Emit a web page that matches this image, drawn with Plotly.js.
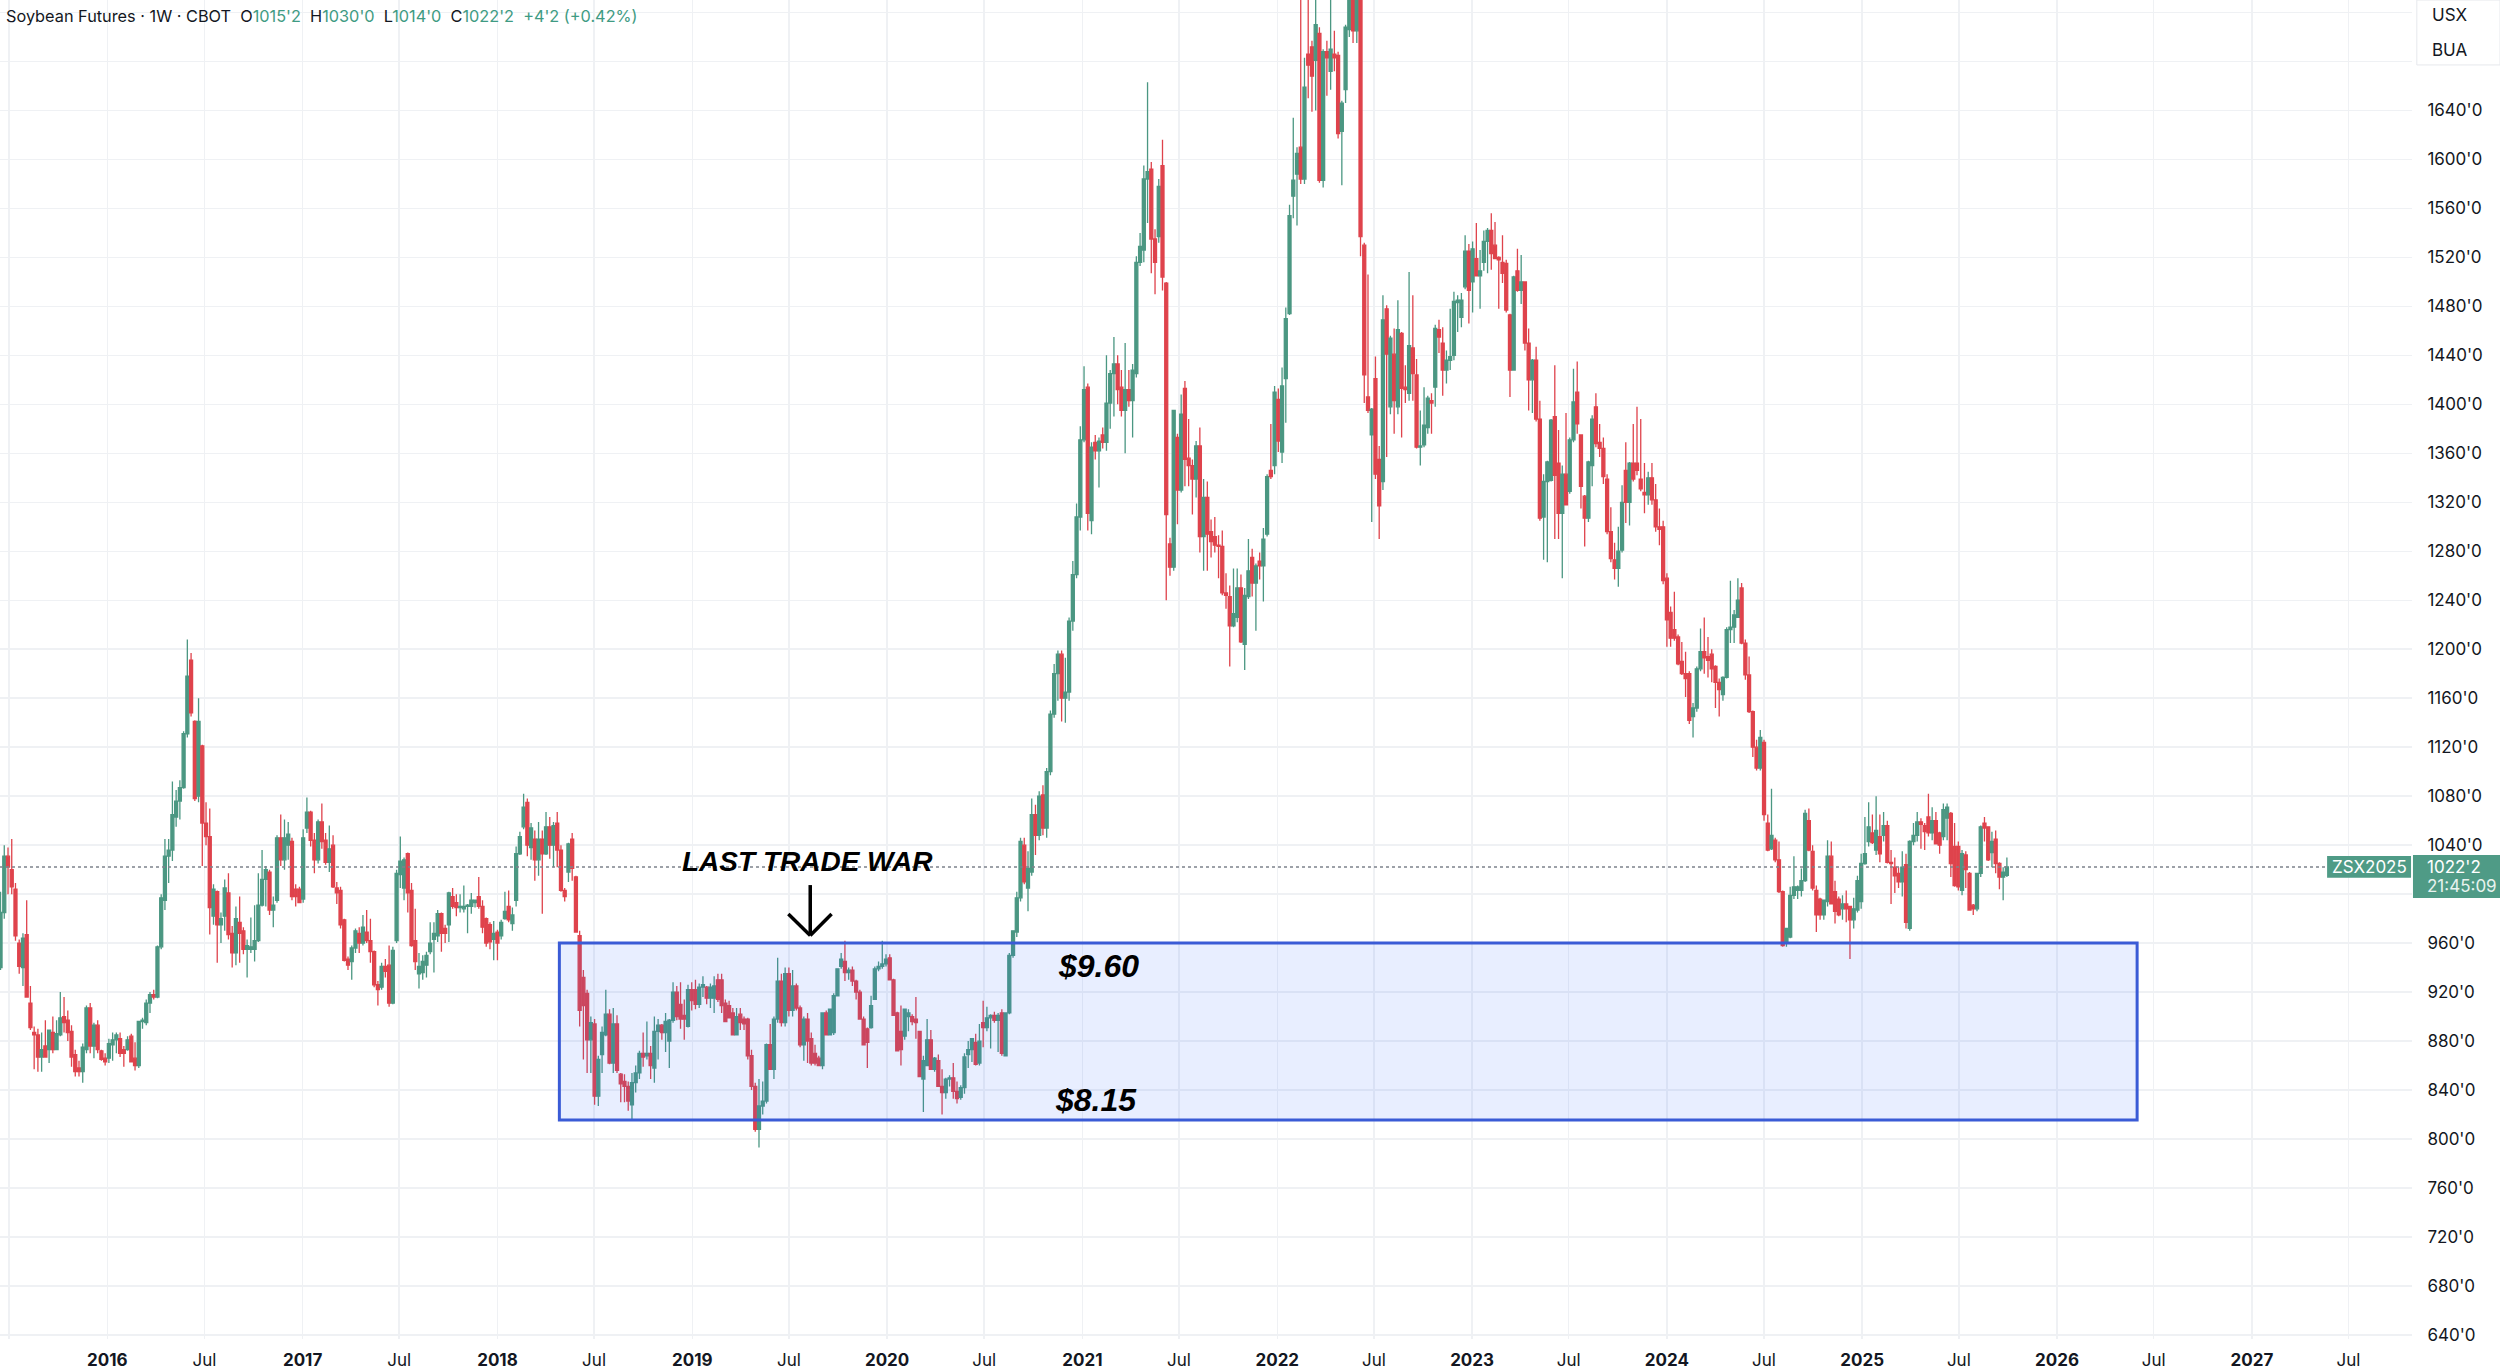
<!DOCTYPE html>
<html><head><meta charset="utf-8">
<script src="https://cdn.plot.ly/plotly-3.0.1.min.js"></script>
<style>html,body{margin:0;padding:0;background:#fff}#chart{width:2500px;height:1369px}</style>
</head><body><div id="chart"></div>
<script>
// Weekly bars [open, high, low, close], one array per calendar year (week start Monday)
const ohlc2015 = [[940,1002,938,985],[985,1040,980,1031],[1031,1038,1000,1022],[1020,1045,1000,1006],[1004,1009,962,966],[960,963,935,941],[940,968,925,964],[967,995,916,916],[911,925,889,891],[887,892,857,885],[885,890,855,867],[867,887,855,873],[876,897,867,867],[873,889,862,889],[887,900,870,873],[873,897,873,886],[885,920,884,899],[900,916,887,895],[897,905,880,887],[888,893,859,867],[869,873,851,855],[858,864,851,855],[855,878,846,875],[873,909,870,907],[907,911,870,876],[876,895,866,893],[893,897,870,873],[872,873,864,865],[866,870,860,863]];
const ohlc2016 = [[866,882,862,878],[877,887,864,881],[881,887,870,885],[882,887,867,870],[873,876,859,870],[873,884,872,881],[884,886,863,863],[866,879,856,860],[860,896,858,896],[896,899,890,897],[895,914,893,911],[911,920,903,918],[918,922,914,916],[916,958,915,957],[957,1000,955,997],[995,1045,987,1031],[1031,1045,1009,1036],[1036,1092,1027,1065],[1063,1085,1055,1076],[1076,1093,1061,1087],[1087,1133,1086,1131],[1131,1208,1128,1178],[1191,1197,1145,1148],[1141,1142,1076,1078],[1080,1160,1075,1141],[1121,1122,1023,1058],[1058,1075,1040,1047],[1047,1070,967,989],[982,1008,975,1004],[1002,1003,944,975],[975,985,960,980],[982,1012,970,1005],[1001,1017,963,967],[968,974,940,952],[952,990,942,980],[977,998,944,968],[970,973,951,955],[955,963,932,958],[955,981,952,957],[955,991,945,962],[962,1017,961,991],[991,1036,990,1012],[1012,1023,990,1020],[1018,1020,983,987],[987,998,973,991],[995,1048,993,1046],[1046,1065,1023,1028],[1028,1061,1020,1046],[1040,1059,1028,1049],[1043,1046,995,998],[1004,1008,990,998],[1004,1006,993,993]];
const ohlc2017 = [[996,1053,993,1046],[1054,1079,1050,1067],[1067,1068,1039,1044],[1044,1050,1017,1028],[1028,1061,1025,1059],[1059,1074,1037,1043],[1044,1050,1024,1026],[1026,1056,1018,1037],[1040,1048,1005,1006],[1005,1010,992,1001],[1003,1006,972,975],[979,980,945,946],[947,949,938,942],[945,958,930,956],[956,972,952,970],[968,973,952,960],[960,983,958,973],[969,987,960,962],[962,980,944,953],[953,954,924,926],[926,929,909,922],[924,944,922,941],[941,947,932,937],[942,958,908,911],[911,957,910,954],[962,1020,960,1017],[1016,1047,1005,1027],[1005,1030,995,1028],[1033,1034,985,1001],[1003,1009,957,958],[962,988,938,945],[935,952,923,941],[936,950,930,945],[942,953,932,950],[953,977,951,960],[963,977,936,968],[966,987,961,984],[984,985,953,968],[972,975,960,968],[975,1002,961,1001],[998,1005,988,990],[993,1000,982,989],[989,1000,985,990],[988,1007,985,990],[990,992,968,991],[990,1001,984,995],[993,995,989,995],[998,1014,988,990],[990,995,968,973],[980,981,957,960],[975,977,955,961],[963,978,946,968]];
const ohlc2018 = [[969,971,946,960],[966,979,963,977],[980,1002,979,986],[990,1003,977,979],[976,989,970,983],[995,1039,990,1033],[1033,1051,1032,1047],[1055,1082,1053,1071],[1075,1078,1031,1040],[1038,1058,1028,1054],[1045,1052,1011,1028],[1028,1059,1015,1045],[1045,1052,984,1033],[1033,1067,1032,1055],[1055,1063,1029,1040],[1040,1059,1022,1056],[1058,1067,1022,1036],[1036,1040,1002,1003],[1003,1005,994,998],[1018,1042,1010,1041],[1045,1050,1011,1021],[1014,1015,969,969],[966,970,892,905],[932,938,865,909],[919,922,854,881],[881,900,854,895],[894,898,828,835],[835,868,827,865],[869,892,854,887],[885,922,884,902],[902,906,861,862],[862,907,854,894],[894,901,854,856],[853,854,830,845],[847,853,830,843],[843,847,823,831],[828,854,815,846],[846,860,838,854],[854,872,849,870],[870,887,859,867],[868,896,865,870],[870,876,849,860],[858,900,846,888],[888,898,865,893],[893,894,881,887],[887,903,871,896],[880,898,858,897],[897,928,895,920],[920,925,897,900],[910,928,890,898],[901,914,881,898],[892,926,891,922],[922,928,905,913]];
const ohlc2019 = [[922,930,906,910],[910,927,907,924],[924,933,916,926],[924,925,910,915],[915,927,907,924],[915,933,903,925],[930,935,912,914],[930,935,903,909],[911,914,896,896],[909,913,899,899],[903,907,885,885],[885,907,885,900],[902,907,889,895],[898,900,889,894],[898,899,865,868],[868,873,840,843],[843,846,806,808],[808,849,793,827],[827,847,820,831],[831,878,829,877],[877,894,857,857],[857,900,849,898],[898,948,895,929],[929,935,892,895],[895,940,892,935],[935,940,900,905],[905,938,900,925],[925,927,905,907],[907,909,875,877],[877,900,864,898],[898,903,862,880],[882,887,860,862],[870,877,860,862],[866,868,860,860],[860,903,857,903],[903,905,885,885],[885,906,885,906],[887,919,885,917],[917,939,917,939],[941,952,939,947],[945,962,929,936],[936,940,930,938],[938,941,925,929],[929,930,914,920],[920,922,898,898],[898,900,877,877],[890,891,858,879],[891,917,890,909],[914,941,914,939],[939,945,937,941],[941,962,939,943],[943,951,941,947]];
const ohlc2020 = [[948,951,930,930],[930,931,901,901],[903,904,872,872],[888,909,860,873],[884,906,881,906],[900,906,888,903],[900,902,893,896],[898,916,882,895],[888,888,851,851],[849,868,822,864],[860,898,860,881],[881,889,857,857],[857,867,855,866],[864,869,843,843],[843,857,820,838],[838,850,833,849],[849,852,843,850],[850,862,833,839],[839,847,829,833],[834,844,832,842],[842,870,837,867],[869,880,858,873],[873,882,863,882],[879,886,860,861],[862,894,860,880],[895,913,875,891],[891,908,888,899],[899,902,874,901],[901,904,895,897],[897,903,871,901],[903,906,868,870],[868,903,868,903],[903,952,902,950],[950,970,948,970],[969,1002,965,997],[997,1046,994,1043],[1040,1046,1008,1010],[1005,1035,986,1021],[1018,1078,1015,1065],[1065,1073,1032,1048],[1048,1084,1044,1080],[1081,1089,1048,1054],[1054,1103,1046,1100],[1100,1150,1097,1147],[1147,1188,1144,1180],[1180,1199,1158,1196],[1196,1199,1141,1160],[1160,1193,1140,1165],[1165,1226,1158,1223],[1223,1272,1215,1261],[1261,1319,1258,1308],[1308,1382,1297,1371]];
const ohlc2021 = [[1371,1431,1369,1412],[1414,1417,1297,1311],[1305,1369,1294,1365],[1369,1375,1355,1362],[1362,1373,1332,1370],[1375,1381,1364,1369],[1369,1440,1362,1401],[1401,1428,1380,1425],[1425,1455,1390,1433],[1433,1440,1400,1412],[1414,1428,1390,1395],[1395,1450,1360,1412],[1412,1428,1398,1403],[1403,1433,1373,1428],[1425,1521,1422,1516],[1516,1540,1513,1529],[1526,1595,1516,1584],[1584,1663,1548,1590],[1592,1598,1507,1535],[1535,1543,1490,1516],[1537,1584,1532,1578],[1595,1616,1493,1504],[1499,1500,1240,1310],[1286,1291,1260,1267],[1267,1395,1264,1395],[1373,1376,1302,1330],[1330,1408,1328,1392],[1413,1419,1333,1355],[1356,1388,1333,1350],[1350,1355,1310,1339],[1339,1370,1324,1366],[1366,1381,1279,1292],[1292,1339,1264,1324],[1324,1337,1264,1294],[1296,1306,1275,1288],[1292,1308,1279,1285],[1285,1293,1258,1284],[1284,1297,1244,1246],[1246,1262,1233,1244],[1243,1252,1186,1219],[1219,1266,1218,1229],[1226,1266,1222,1250],[1250,1261,1205,1206],[1204,1250,1183,1244],[1243,1290,1241,1264],[1275,1282,1243,1254],[1254,1270,1215,1268],[1272,1279,1257,1268],[1268,1299,1239,1290],[1294,1343,1292,1341],[1346,1384,1339,1341],[1350,1415,1343,1410]];
const ohlc2022 = [[1404,1413,1361,1370],[1361,1430,1352,1415],[1421,1479,1385,1470],[1474,1563,1473,1554],[1570,1634,1552,1583],[1588,1610,1546,1605],[1610,1750,1580,1584],[1584,1683,1580,1659],[1686,1740,1650,1677],[1692,1697,1639,1668],[1681,1745,1640,1710],[1703,1708,1581,1583],[1583,1690,1577,1688],[1688,1697,1652,1683],[1672,1740,1657,1690],[1686,1705,1672,1683],[1685,1688,1617,1621],[1623,1648,1579,1646],[1657,1710,1646,1708],[1706,1750,1700,1735],[1735,1755,1695,1705],[1705,1775,1695,1750],[1760,1784,1521,1537],[1530,1532,1401,1424],[1406,1506,1393,1395],[1375,1397,1304,1396],[1421,1439,1339,1343],[1355,1366,1290,1317],[1337,1489,1330,1469],[1478,1481,1357,1441],[1398,1456,1392,1454],[1441,1462,1376,1403],[1398,1485,1392,1461],[1458,1459,1373,1413],[1414,1432,1401,1412],[1409,1508,1403,1448],[1446,1489,1403,1425],[1424,1437,1364,1365],[1365,1395,1350,1366],[1367,1414,1365,1383],[1381,1407,1376,1405],[1403,1409,1376,1401],[1414,1465,1398,1462],[1461,1469,1442,1455],[1450,1463,1407,1428],[1428,1444,1417,1436],[1436,1478,1428,1439],[1440,1492,1436,1484],[1483,1489,1459,1485],[1471,1491,1463,1485],[1496,1538,1494,1525],[1525,1531,1466,1493]];
const ohlc2023 = [[1500,1533,1475,1527],[1519,1548,1505,1505],[1505,1526,1478,1509],[1516,1542,1509,1533],[1533,1544,1507,1542],[1542,1556,1510,1523],[1530,1549,1519,1519],[1520,1521,1478,1518],[1516,1538,1499,1507],[1515,1518,1475,1477],[1473,1474,1406,1428],[1428,1505,1428,1504],[1509,1527,1492,1493],[1493,1522,1482,1500],[1500,1500,1444,1450],[1450,1462,1395,1420],[1420,1437,1393,1436],[1436,1447,1386,1388],[1388,1403,1305,1307],[1308,1343,1273,1337],[1337,1354,1271,1353],[1338,1388,1337,1387],[1390,1432,1290,1342],[1352,1379,1290,1311],[1311,1350,1258,1343],[1343,1393,1318,1318],[1329,1373,1327,1371],[1371,1429,1369,1402],[1410,1435,1376,1384],[1375,1375,1315,1333],[1325,1326,1284,1307],[1307,1354,1304,1353],[1350,1391,1333,1388],[1398,1409,1365,1368],[1369,1384,1357,1364],[1364,1373,1335,1341],[1339,1343,1294,1296],[1296,1316,1271,1274],[1273,1287,1257,1266],[1266,1300,1251,1280],[1281,1334,1279,1320],[1346,1369,1303,1320],[1320,1353,1301,1352],[1352,1384,1337,1339],[1352,1398,1342,1346],[1339,1388,1329,1331],[1328,1352,1311,1326],[1326,1345,1318,1340],[1340,1352,1318,1322],[1322,1335,1296,1300],[1300,1315,1285,1298],[1300,1305,1253,1256]];
const ohlc2024 = [[1258,1262,1202,1224],[1230,1235,1202,1209],[1216,1247,1207,1209],[1210,1212,1187,1188],[1190,1206,1179,1180],[1180,1198,1161,1176],[1180,1182,1139,1142],[1145,1156,1128,1152],[1152,1186,1149,1184],[1184,1217,1182,1198],[1198,1226,1180,1193],[1194,1210,1177,1191],[1196,1200,1173,1184],[1186,1187,1152,1173],[1173,1176,1145,1167],[1163,1178,1158,1177],[1177,1218,1176,1216],[1216,1256,1205,1218],[1218,1232,1205,1228],[1226,1258,1226,1240],[1250,1254,1204,1205],[1205,1208,1175,1179],[1179,1194,1148,1149],[1149,1150,1112,1120],[1120,1126,1101,1103],[1103,1134,1101,1128],[1124,1126,1060,1065],[1058,1065,1035,1036],[1037,1086,1036,1048],[1044,1046,1026,1028],[1028,1043,1001,1002],[1002,1003,957,958],[960,972,957,972],[965,1006,964,999],[999,1031,996,1006],[1003,1007,996,1006],[1003,1021,998,1011],[1011,1069,1010,1066],[1060,1070,1035,1036],[1035,1040,1003,1005],[1003,1007,969,983],[996,997,979,983],[983,995,979,995],[994,1044,990,1031],[1031,1043,992,992],[1002,1011,976,986],[996,998,982,983],[988,999,979,992],[992,1003,977,988],[990,990,947,979],[979,997,972,988],[987,1015,985,1011],[994,1033,988,1025]];
const ohlc2025 = [[1025,1063,1024,1033],[1043,1075,1039,1055],[1050,1065,1041,1042],[1036,1080,1032,1052],[1047,1065,1026,1033],[1048,1067,1043,1056],[1056,1060,1025,1026],[1026,1036,992,1025],[1022,1030,1001,1015],[1017,1022,1005,1010],[1010,1035,998,1022],[1024,1033,972,977],[972,1044,970,1043],[1043,1058,1040,1048],[1048,1067,1043,1059],[1059,1062,1037,1057],[1056,1058,1036,1051],[1063,1082,1047,1050],[1050,1071,1044,1060],[1060,1067,1041,1041],[1050,1051,1033,1040],[1047,1074,1044,1069],[1062,1074,1044,1071],[1066,1067,1014,1025],[1039,1058,1006,1007],[1039,1043,1003,1006],[1003,1036,999,1033],[1032,1035,1005,1020],[1017,1018,987,987],[991,992,983,988],[988,1017,986,1017],[1017,1056,1014,1055],[1058,1063,1043,1054],[1055,1055,1027,1028],[1034,1051,1022,1043],[1045,1052,1017,1025],[1025,1026,1004,1014],[1014,1022,995,1018],[1015.25,1030,1014,1022.25]];
// first weekly bar (Monday) of each yearly array
const weekStarts = ['2015-06-15','2016-01-04','2017-01-02','2018-01-01','2019-01-07','2020-01-06','2021-01-04','2022-01-03','2023-01-02','2024-01-01','2025-01-06'];

const timeTicks = ['2015-07-01','2016-01-01','2016-07-01','2017-01-01','2017-07-01','2018-01-01','2018-07-01','2019-01-01','2019-07-01','2020-01-01','2020-07-01','2021-01-01','2021-07-01','2022-01-01','2022-07-01','2023-01-01','2023-07-01','2024-01-01','2024-07-01','2025-01-01','2025-07-01','2026-01-01','2026-07-01','2027-01-01','2027-07-01'];
const timeTickLabels = ['Jul','<b>2016</b>','Jul','<b>2017</b>','Jul','<b>2018</b>','Jul','<b>2019</b>','Jul','<b>2020</b>','Jul','<b>2021</b>','Jul','<b>2022</b>','Jul','<b>2023</b>','Jul','<b>2024</b>','Jul','<b>2025</b>','Jul','<b>2026</b>','Jul','<b>2027</b>','Jul'];
const priceTicks = [640,680,720,760,800,840,880,920,960,1000,1040,1080,1120,1160,1200,1240,1280,1320,1360,1400,1440,1480,1520,1560,1600,1640,1680,1720];
// 1000'0 sits under the price label, 1680'0/1720'0 under the currency box
const priceTickLabels = ["640'0","680'0","720'0","760'0","800'0","840'0","880'0","920'0","960'0","","1040'0","1080'0","1120'0","1160'0","1200'0","1240'0","1280'0","1320'0","1360'0","1400'0","1440'0","1480'0","1520'0","1560'0","1600'0","1640'0","",""];

const zoneTop = 960, zoneBottom = 815.5, lastClose = 1022.25;
const header = {name:'Soybean Futures · 1W · CBOT', o:"1015'2", h:"1030'0", l:"1014'0", c:"1022'2", chg:"+4'2 (+0.42%)"};

const UP = '#4b9782', DOWN = '#df434c', GRID = '#eff1f4', TXT = '#131722';
const FONT = 'Inter, "Noto Sans", sans-serif';

const x=[], o=[], h=[], l=[], c=[];
[ohlc2015,ohlc2016,ohlc2017,ohlc2018,ohlc2019,ohlc2020,ohlc2021,ohlc2022,ohlc2023,ohlc2024,ohlc2025].forEach((arr,i)=>{
  const start = Date.parse(weekStarts[i]+'T00:00:00Z');
  arr.forEach((b,j)=>{
    x.push(new Date(start + j*7*86400000).toISOString().slice(0,10));
    o.push(b[0]); h.push(b[1]); l.push(b[2]); c.push(b[3]);
  });
});

const trace = {
  type:'candlestick', x:x, open:o, high:h, low:l, close:c,
  increasing:{line:{color:UP,width:1.3}, fillcolor:UP},
  decreasing:{line:{color:DOWN,width:1.3}, fillcolor:DOWN},
  whiskerwidth:0, hoverinfo:'skip', showlegend:false
};

const g = s => `<span style="color:#3f9b83">${s}</span>`;
const sp = '&nbsp;&nbsp;';
const layout = {
  width:2500, height:1369, autosize:false,
  margin:{l:0, r:88, t:0, b:30, pad:0},
  paper_bgcolor:'#ffffff', plot_bgcolor:'#ffffff',
  showlegend:false, hovermode:false, boxgap:0.2, boxgroupgap:0,
  font:{family:FONT, size:17, color:TXT},
  xaxis:{type:'date', range:['2015-06-14','2027-10-28'], tickmode:'array', tickvals:timeTicks, ticktext:timeTickLabels,
    showgrid:true, gridcolor:GRID, gridwidth:1.5, zeroline:false, showline:false,
    ticks:'outside', ticklen:6, tickcolor:'rgba(0,0,0,0)', tickfont:{family:FONT,size:17,color:TXT},
    rangeslider:{visible:false}, fixedrange:true},
  yaxis:{side:'right', range:[636.7,1730.2], tickmode:'array', tickvals:priceTicks, ticktext:priceTickLabels,
    showgrid:true, gridcolor:GRID, gridwidth:1.5, zeroline:false, showline:false,
    ticks:'outside', ticklen:11, tickcolor:'rgba(0,0,0,0)', tickfont:{family:FONT,size:17,color:TXT}, fixedrange:true},
  shapes:[
    {type:'rect', xref:'x', yref:'y', x0:'2018-04-27', x1:'2026-05-31', y0:zoneBottom, y1:zoneTop,
      line:{color:'#3a5bd6', width:3}, fillcolor:'rgba(41,98,255,0.11)', layer:'above'},
    {type:'line', xref:'paper', yref:'y', x0:0, x1:0.9648, y0:lastClose, y1:lastClose,
      line:{color:'#7d828c', width:1.5, dash:'dot'}, layer:'above'},
    {type:'line', xref:'x', yref:'y', x0:'2019-08-10', x1:'2019-08-10', y0:1007.4, y1:966.6, line:{color:'#000', width:3.5}},
    {type:'line', xref:'x', yref:'y', x0:'2019-06-30', x1:'2019-08-10', y0:983.7, y1:966.2, line:{color:'#000', width:3.5}},
    {type:'line', xref:'x', yref:'y', x0:'2019-09-19', x1:'2019-08-10', y0:983.7, y1:966.2, line:{color:'#000', width:3.5}},
    {type:'rect', xref:'paper', yref:'paper', x0:1.002, x1:1.0365, y0:0.9515, y1:1.0, line:{color:'#e6e8ec', width:1}, fillcolor:'#ffffff', layer:'above'},
    {type:'rect', xref:'paper', yref:'y', x0:0.9648, x1:0.9996, y0:1013.3, y1:1031.2, line:{width:0}, fillcolor:'#4f9b86', layer:'above'},
    {type:'rect', xref:'paper', yref:'y', x0:1.0004, x1:1.0365, y0:996.8, y1:1031.9, line:{width:0}, fillcolor:'#4f9b86', layer:'above'}
  ],
  annotations:[
    {xref:'paper', yref:'paper', x:0, y:1, xanchor:'left', yanchor:'top', xshift:4, yshift:-4, showarrow:false,
      text:`${header.name}${sp}O${g(header.o)}${sp}H${g(header.h)}${sp}L${g(header.l)}${sp}C${g(header.c)}${sp}${g(header.chg)}`,
      font:{family:FONT, size:16.3, color:TXT}},
    {xref:'paper', yref:'paper', x:1.0075, y:0.9888, xanchor:'left', yanchor:'middle', showarrow:false, text:'USX', font:{family:FONT,size:17,color:TXT}},
    {xref:'paper', yref:'paper', x:1.0075, y:0.9627, xanchor:'left', yanchor:'middle', showarrow:false, text:'BUA', font:{family:FONT,size:17,color:TXT}},
    {xref:'paper', yref:'y', x:0.9822, y:lastClose, xanchor:'center', yanchor:'middle', showarrow:false, text:'ZSX2025', font:{family:FONT,size:17,color:'#ffffff'}},
    {xref:'paper', yref:'y', x:1.0054, y:1022.1, xanchor:'left', yanchor:'middle', showarrow:false, text:"1022'2", font:{family:FONT,size:17,color:'#ffffff'}},
    {xref:'paper', yref:'y', x:1.0054, y:1006.6, xanchor:'left', yanchor:'middle', showarrow:false, text:'21:45:09', font:{family:FONT,size:17,color:'#e8f3ef'}},
    {xref:'x', yref:'y', x:'2019-08-05', y:1027, xanchor:'center', yanchor:'middle', showarrow:false, text:'<b><i>LAST TRADE WAR</i></b>', font:{family:'"Liberation Sans", Arial, sans-serif', size:28, color:'#000'}},
    {xref:'x', yref:'y', x:'2021-01-31', y:941.3, xanchor:'center', yanchor:'middle', showarrow:false, text:'<b><i>$9.60</i></b>', font:{family:'"Liberation Sans", Arial, sans-serif', size:32, color:'#000'}},
    {xref:'x', yref:'y', x:'2021-01-26', y:831.8, xanchor:'center', yanchor:'middle', showarrow:false, text:'<b><i>$8.15</i></b>', font:{family:'"Liberation Sans", Arial, sans-serif', size:32, color:'#000'}}
  ]
};

Plotly.newPlot('chart', [trace], layout, {displayModeBar:false, staticPlot:true});
</script>
</body></html>
